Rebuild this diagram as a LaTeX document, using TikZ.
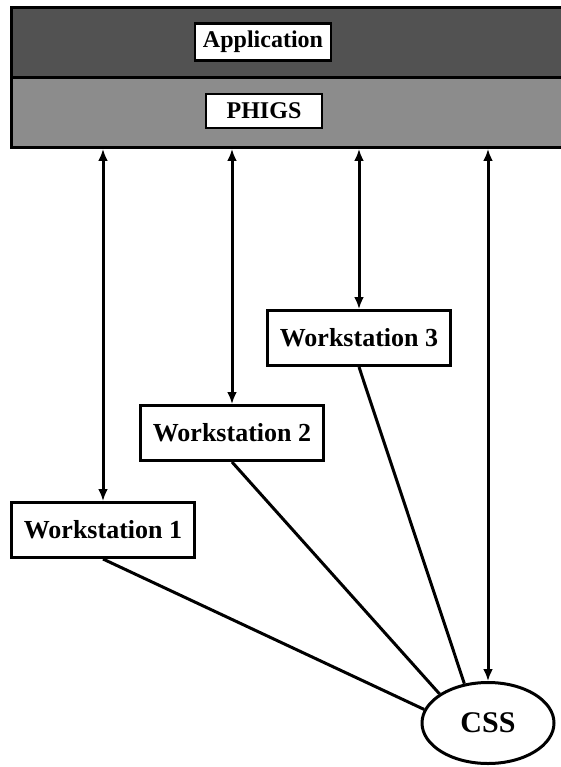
\documentclass[tikz,border=0pt]{standalone}
\usepackage{fontspec}
\setmainfont{Liberation Serif}
\usetikzlibrary{shapes.geometric,arrows.meta}
\tikzset{
  wsbox/.style={draw,line width=3pt,fill=white,inner sep=0pt,
    minimum width=183pt,minimum height=55pt,
    font=\fontsize{26}{30}\selectfont\bfseries},
  layerbox/.style={draw,line width=2.5pt,fill=white,inner sep=0pt,
    font=\fontsize{24}{28}\selectfont\bfseries},
  band/.style={draw,line width=3pt,inner sep=0pt,anchor=north west,
    minimum width=555pt,minimum height=70pt},
  link/.style={line width=3pt}
}
\begin{document}
\begin{tikzpicture}[>={Latex[length=12pt,width=10pt]},x=1pt,y=-1pt]
		\useasboundingbox (0,0) rectangle (561,767);
		% layers
		\node[band,fill=black!68] (appband) at (10,6) {};
		\node[band,fill=black!45] (phigsband) at (10,76) {};
		\node[layerbox,minimum width=136pt,minimum height=37pt] (app) at (263,42) {Application};
		\node[layerbox,minimum width=116pt,minimum height=34pt] (phigs) at (264,111) {PHIGS};
		% workstations
		\node[wsbox] (ws1) at (103,530) {Workstation 1};
		\node[wsbox] (ws2) at (232,433) {Workstation 2};
		\node[wsbox] (ws3) at (359,338) {Workstation 3};
		\node[ellipse,draw,line width=3pt,inner sep=0pt,minimum width=132pt,minimum height=81pt,
			font=\fontsize{30}{34}\selectfont\bfseries] (css) at (488,723) {CSS};
		% connections
		\foreach \ws in {ws1,ws2,ws3}
		\draw[link,<->] (\ws.north) -- (\ws.north |- phigsband.south);
		\draw[link,<->] (css.north) -- (css.north |- phigsband.south);
		\draw[link] (ws1.south) -- (css.168);
		\draw[link] (ws2.south) -- (css.149);
		\draw[link] (ws3.south) -- (css.121);
\end{tikzpicture}
\end{document}
